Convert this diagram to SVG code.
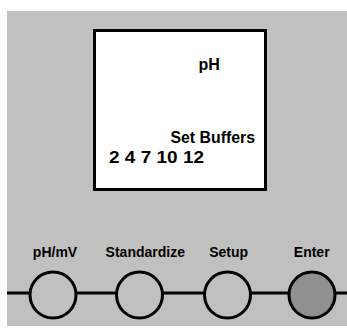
<svg xmlns="http://www.w3.org/2000/svg" width="347" height="329" viewBox="0 0 347 329">
<style>
text{font-family:"Liberation Sans",Arial,sans-serif;font-weight:bold;fill:#000}
.lbl{font-size:14px;text-anchor:middle}
.btn{fill:#c0c0c0;stroke:#000;stroke-width:3}
</style>
<rect x="0" y="0" width="347" height="329" fill="#ffffff"/>
<rect id="panel" x="7" y="11" width="340" height="315" fill="#c0c0c0"/>
<g id="display">
<rect x="94.5" y="30.5" width="171" height="159" fill="#ffffff" stroke="#000" stroke-width="3"/>
<text x="198.5" y="70" font-size="16">pH</text>
<text x="170.5" y="142.5" font-size="16" textLength="84.5" lengthAdjust="spacingAndGlyphs">Set Buffers</text>
<text x="109" y="163.3" font-size="17" textLength="95" lengthAdjust="spacingAndGlyphs">2 4 7 10 12</text>
</g>
<g id="connectors">
<line x1="7" y1="293" x2="347" y2="293" stroke="#000" stroke-width="3"/>
</g>
<g id="btn-phmv">
<circle class="btn" cx="53" cy="295" r="23"/>
<text class="lbl" x="55" y="257">pH/mV</text>
</g>
<g id="btn-standardize">
<circle class="btn" cx="139.5" cy="295" r="23"/>
<text class="lbl" x="145.3" y="257">Standardize</text>
</g>
<g id="btn-setup">
<circle class="btn" cx="227.5" cy="295" r="23"/>
<text class="lbl" x="228.7" y="257">Setup</text>
</g>
<g id="btn-enter">
<circle class="btn" cx="312" cy="295" r="23" style="fill:#909090"/>
<text class="lbl" x="311.7" y="257">Enter</text>
</g>
</svg>
